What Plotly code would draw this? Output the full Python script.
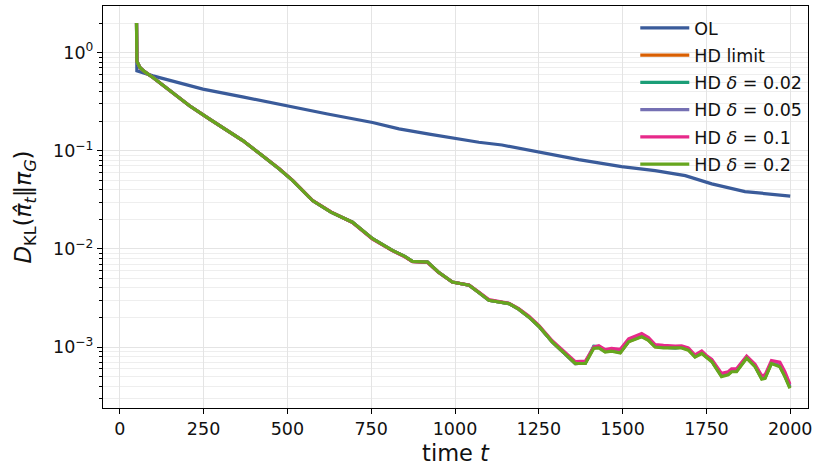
import plotly.graph_objects as go

# ---------------- data ----------------
t_ol = [50, 51, 99, 170, 248, 370, 496, 620, 754, 833, 923, 1000, 1071, 1140,
        1250, 1369, 1497, 1597, 1687, 1766, 1865, 2000]
ol = [2.0, 0.652, 0.580, 0.50, 0.425, 0.352, 0.287, 0.237, 0.194, 0.167, 0.148,
      0.134, 0.122, 0.1145, 0.0964, 0.0812, 0.0689, 0.0628, 0.0558, 0.046,
      0.0384, 0.0345]

t_hd = [50, 51, 60, 75, 99, 150, 208, 268, 320, 367, 420, 476, 516, 575, 630,
        694, 754, 813, 850, 873, 918, 950, 992, 1042, 1070, 1101, 1161, 1190,
        1220, 1250, 1290, 1330, 1359, 1389,
        1414, 1429, 1448, 1467, 1493, 1518, 1538, 1557, 1577, 1597, 1622, 1657,
        1676, 1696, 1716, 1736, 1750, 1766, 1795, 1815, 1825, 1840, 1870, 1895,
        1915, 1925, 1944, 1969, 1984, 1999]

hd_limit = [2.0, 0.82, 0.705, 0.636, 0.557, 0.41, 0.287, 0.21, 0.162, 0.127,
            0.092, 0.0653, 0.0497, 0.0311, 0.0237, 0.0187, 0.0127, 0.00966,
            0.0084, 0.00747, 0.00735, 0.00582, 0.0046, 0.00426, 0.00361,
            0.0030, 0.00277, 0.00243, 0.00203, 0.00163, 0.00113, 0.00083,
            0.00068, 0.00069,
            0.00099, 0.00100, 0.00090, 0.00092, 0.00088, 0.00114, 0.00122,
            0.00129, 0.00118, 0.00101, 0.00099, 0.00098, 0.00099, 0.00094,
            0.00080, 0.00087, 0.00079, 0.00072, 0.00051, 0.00053, 0.00057,
            0.00057, 0.00078, 0.00064, 0.00048, 0.00049, 0.00069, 0.00064,
            0.00051, 0.00039]
hd_002 = [2.0, 0.82, 0.705, 0.636, 0.557, 0.41, 0.287, 0.21, 0.162, 0.127,
          0.092, 0.0653, 0.0497, 0.0311, 0.0237, 0.0187, 0.0127, 0.00966,
          0.0084, 0.00747, 0.00735, 0.00582, 0.0046, 0.00426, 0.00361,
          0.0030, 0.00277, 0.00243, 0.00203, 0.00163, 0.00113, 0.00083,
          0.00068, 0.00069,
          0.00102, 0.00101, 0.00091, 0.00093, 0.00089, 0.00115, 0.00123,
          0.00130, 0.00119, 0.00102, 0.00100, 0.00098, 0.00100, 0.00095,
          0.00080, 0.00088, 0.00079, 0.00072, 0.00051, 0.00053, 0.00057,
          0.00057, 0.00078, 0.00064, 0.00048, 0.00049, 0.00069, 0.00064,
          0.00051, 0.00039]
hd_005 = [2.0, 0.82, 0.705, 0.636, 0.557, 0.41, 0.287, 0.21, 0.162, 0.127,
          0.092, 0.0653, 0.0497, 0.0311, 0.0237, 0.0187, 0.0127, 0.00966,
          0.0084, 0.00747, 0.00735, 0.00582, 0.0046, 0.00426, 0.00361,
          0.0030, 0.00277, 0.00243, 0.00203, 0.00163, 0.00113, 0.00083,
          0.00068, 0.00069,
          0.00101, 0.00101, 0.00091, 0.00093, 0.00089, 0.00115, 0.00123,
          0.00130, 0.00119, 0.00102, 0.00100, 0.00098, 0.00100, 0.00095,
          0.00081, 0.00088, 0.00080, 0.00073, 0.00052, 0.00054, 0.00058,
          0.00058, 0.00079, 0.00065, 0.00049, 0.00050, 0.00070, 0.00065,
          0.00052, 0.00040]
hd_01 = [2.0, 0.82, 0.705, 0.636, 0.557, 0.41, 0.287, 0.21, 0.162, 0.127,
         0.092, 0.0655, 0.0499, 0.0312, 0.0238, 0.0186, 0.0126, 0.00960,
         0.0083, 0.00740, 0.00728, 0.00580, 0.0046, 0.00428, 0.00365,
         0.00305, 0.00280, 0.00246, 0.00207, 0.00166, 0.00116, 0.00086,
         0.00071, 0.00072,
         0.00100, 0.00103, 0.00094, 0.00097, 0.00095, 0.00121, 0.00130,
         0.00137, 0.00125, 0.00106, 0.00104, 0.00102, 0.00103, 0.00098,
         0.00083, 0.00091, 0.00082, 0.00075, 0.00054, 0.00056, 0.00060,
         0.00060, 0.00081, 0.00067, 0.00051, 0.00052, 0.00073, 0.00070,
         0.00056, 0.00042]
hd_02 = [2.0, 0.82, 0.705, 0.636, 0.557, 0.41, 0.287, 0.21, 0.162, 0.127,
         0.092, 0.0653, 0.0497, 0.0311, 0.0237, 0.0187, 0.0127, 0.00966,
         0.0084, 0.00747, 0.00735, 0.00582, 0.0046, 0.00426, 0.00361,
         0.0030, 0.00277, 0.00243, 0.00203, 0.00163, 0.00113, 0.00083,
         0.00068, 0.00068,
         0.00097, 0.00098, 0.00089, 0.00091, 0.00087, 0.00113, 0.00121,
         0.00127, 0.00117, 0.00100, 0.00098, 0.00097, 0.00098, 0.00093,
         0.00079, 0.00086, 0.00078, 0.00071, 0.00050, 0.00052, 0.00056,
         0.00056, 0.00077, 0.00063, 0.00047, 0.00048, 0.00068, 0.00063,
         0.00050, 0.00038]

series_names = ["OL", "HD limit", "HD <i>δ</i> = 0.02", "HD <i>δ</i> = 0.05",
                "HD <i>δ</i> = 0.1", "HD <i>δ</i> = 0.2"]
colors = ["#3a5b9a", "#d95f02", "#1b9e77", "#7570b3", "#e7298a", "#66a61e"]

x_ticks = [0, 250, 500, 750, 1000, 1250, 1500, 1750, 2000]
y_ticks = [1e-3, 1e-2, 1e-1, 1e0]
y_ticktext = ["10<sup>−3</sup>", "10<sup>−2</sup>", "10<sup>−1</sup>", "10<sup>0</sup>"]
y_minor = [m * 10 ** e for e in range(-4, 1) for m in range(2, 10)]

# ---------------- figure ----------------
fig = go.Figure()
ys = [ol, hd_limit, hd_002, hd_005, hd_01, hd_02]
xs = [t_ol, t_hd, t_hd, t_hd, t_hd, t_hd]
for i, (name, c, x, y) in enumerate(zip(series_names, colors, xs, ys)):
    fig.add_trace(go.Scatter(x=x, y=y, mode="lines", name=name,
                             legendgroup=f"g{i}",
                             line=dict(color=c, width=3.2)))

font_family = "DejaVu Sans"
txt = "#111111"
fig.update_layout(
    width=817, height=468,
    margin=dict(l=103, r=7, t=5, b=60),
    paper_bgcolor="white", plot_bgcolor="white",
    font=dict(family=font_family, color=txt, size=17.5),
    showlegend=True,
    legend=dict(x=0.755, y=0.99, xanchor="left", yanchor="top",
                bgcolor="rgba(255,255,255,0)", font=dict(size=17.5, color=txt),
                tracegroupgap=1.5, itemwidth=49),
)
fig.update_xaxes(
    range=[-50, 2053], tickvals=x_ticks, ticks="outside", ticklen=5,
    tickcolor="black", showline=True, linecolor="black", linewidth=1.3,
    mirror=True, showgrid=True, gridcolor="#e4e4e4", gridwidth=1,
    zeroline=False, tickfont=dict(size=17.5),
    title=dict(text="time <i>t</i>", font=dict(size=22.5), standoff=7),
)
fig.update_yaxes(
    type="log", range=[-3.621, 0.475], tickvals=y_ticks, ticktext=y_ticktext,
    ticks="outside", ticklen=5, tickcolor="black", showline=True,
    linecolor="black", linewidth=1.3, mirror=True, showgrid=True,
    gridcolor="#e4e4e4", gridwidth=1, zeroline=False, tickfont=dict(size=17.5),
    minor=dict(tickvals=y_minor, ticks="outside", ticklen=3, tickcolor="black",
               showgrid=True, gridcolor="#eeeeee", gridwidth=1),
    title=dict(text="<i>D</i><sub>KL</sub>(<i>π̂</i><sub><i>t</i></sub>‖<i>π</i><sub><i>G</i></sub>)",
               font=dict(size=23), standoff=14),
)
fig.write_html("out.html")
